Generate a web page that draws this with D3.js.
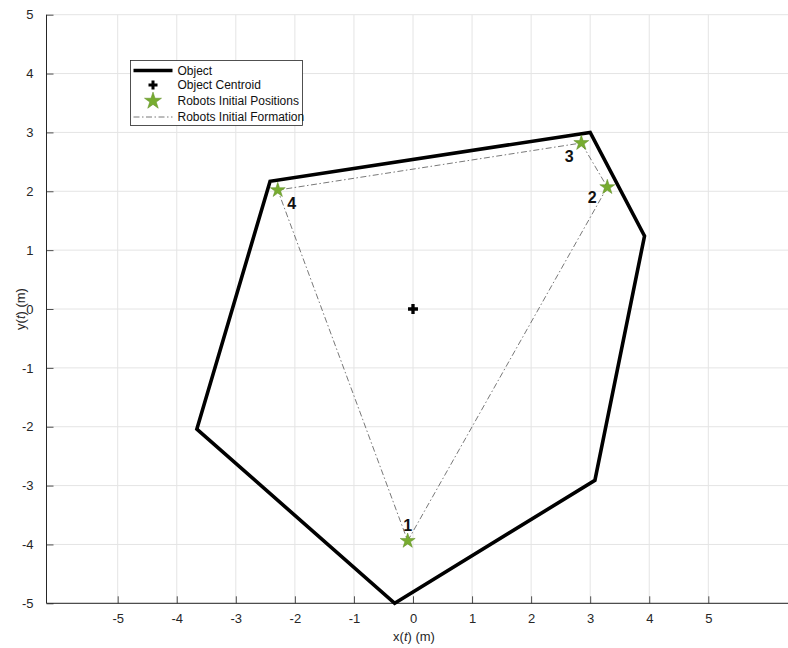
<!DOCTYPE html>
<html>
<head>
<meta charset="utf-8">
<script src="https://cdn.jsdelivr.net/npm/d3@7/dist/d3.min.js"></script>
<style>
  html, body { margin: 0; padding: 0; background: #fff; }
  svg { display: block; font-family: "Liberation Sans", Arial, sans-serif; }
</style>
</head>
<body>
<svg id="chart" width="788" height="648"></svg>
<script>
// Object polygon vertices (m)
const objectX = [-0.31, 3.08, 3.92, 3.0, -2.42, -3.66];
const objectY = [-5.0, -2.91, 1.24, 3.0, 2.17, -2.04];

// Object centroid
const centroid = [0, 0];

// Robot initial positions (m)
const robotIds = ["1", "2", "3", "4"];
const robotX = [-0.09, 3.29, 2.85, -2.29];
const robotY = [-3.94, 2.07, 2.82, 2.02];

// Axis ticks
const xTicks = [-5, -4, -3, -2, -1, 0, 1, 2, 3, 4, 5];
const yTicks = [-5, -4, -3, -2, -1, 0, 1, 2, 3, 4, 5];

const legendLabels = ["Object", "Object Centroid", "Robots Initial Positions", "Robots Initial Formation"];

(function () {
  const svg = d3.select("#chart");
  const W = 788;
  const plotLeft = 46.5, plotTop = 14.7, plotBottom = 603.3;
  const unitX = 59.06;
  const x0 = 413;

  const x = d3.scaleLinear().domain([-6.2, 6.4]).range([x0 - 6.2 * unitX, x0 + 6.4 * unitX]);
  const y = d3.scaleLinear().domain([-5, 5]).range([plotBottom, plotTop]);

  const gridColor = "#e4e4e4";
  const axisColor = "#262626";
  const green = "#77AC30";
  const tickFmt = d => String(d);

  // grid
  const grid = svg.append("g");
  grid.selectAll("line.gx").data(xTicks).enter().append("line").attr("class", "gx")
    .attr("x1", d => x(d)).attr("x2", d => x(d))
    .attr("y1", plotTop).attr("y2", plotBottom)
    .attr("stroke", gridColor).attr("stroke-width", 1);
  grid.selectAll("line.gy").data(yTicks).enter().append("line").attr("class", "gy")
    .attr("x1", plotLeft).attr("x2", W)
    .attr("y1", d => y(d)).attr("y2", d => y(d))
    .attr("stroke", gridColor).attr("stroke-width", 1);

  // axes (ticks pointing inward)
  const xAxis = d3.axisBottom(x).tickValues(xTicks).tickSize(-7).tickPadding(10).tickFormat(tickFmt);
  const yAxis = d3.axisLeft(y).tickValues(yTicks).tickSize(-7).tickPadding(13).tickFormat(tickFmt);

  const gx = svg.append("g").attr("transform", `translate(0,${plotBottom})`).call(xAxis);
  gx.select(".domain").remove();
  gx.append("line").attr("x1", plotLeft).attr("x2", W).attr("y1", 0).attr("y2", 0)
    .attr("stroke", axisColor).attr("stroke-width", 1);

  const gy = svg.append("g").attr("transform", `translate(${plotLeft},0)`).call(yAxis);
  gy.select(".domain").remove();
  gy.append("line").attr("x1", 0).attr("x2", 0).attr("y1", plotTop).attr("y2", plotBottom)
    .attr("stroke", axisColor).attr("stroke-width", 1);

  [gx, gy].forEach(g => {
    g.selectAll(".tick line").attr("stroke", axisColor).attr("stroke-width", 0.8);
    g.selectAll(".tick text").attr("fill", axisColor).attr("font-size", 13)
      .attr("font-family", "Liberation Sans, Arial, sans-serif");
  });

  // axis labels
  const xl = svg.append("text").attr("x", 414).attr("y", 641).attr("text-anchor", "middle")
    .attr("font-size", 13).attr("fill", axisColor);
  xl.append("tspan").text("x(");
  xl.append("tspan").attr("font-style", "italic").text("t");
  xl.append("tspan").text(") (m)");

  const yl = svg.append("text").attr("transform", `translate(25,${y(0)}) rotate(-90)`)
    .attr("text-anchor", "middle").attr("font-size", 13).attr("fill", axisColor);
  yl.append("tspan").text("y(");
  yl.append("tspan").attr("font-style", "italic").text("t");
  yl.append("tspan").text(") (m)");

  // object polygon
  const objPts = objectX.map((d, i) => [x(d), y(objectY[i])]);
  svg.append("polygon")
    .attr("points", objPts.map(p => p.join(",")).join(" "))
    .attr("fill", "none").attr("stroke", "#000").attr("stroke-width", 3.6)
    .attr("stroke-linejoin", "miter");

  // robot formation (closed dash-dot loop)
  const formPts = robotX.map((d, i) => [x(d), y(robotY[i])]);
  svg.append("path")
    .attr("d", d3.line()(formPts.concat([formPts[0]])))
    .attr("fill", "none").attr("stroke", "#555").attr("stroke-width", 0.8)
    .attr("stroke-dasharray", "6,2.5,1.5,2.5");

  // centroid marker
  svg.append("path")
    .attr("d", d3.symbol().type(d3.symbolCross).size(55)())
    .attr("transform", `translate(${x(centroid[0])},${y(centroid[1])})`)
    .attr("fill", "#000");

  // robots
  const star = d3.symbol().type(d3.symbolStar).size(70)();
  svg.selectAll("path.robot").data(robotIds).enter().append("path")
    .attr("class", "robot")
    .attr("d", star)
    .attr("transform", (d, i) => `translate(${x(robotX[i])},${y(robotY[i])})`)
    .attr("fill", green).attr("stroke", "#5d8a22").attr("stroke-width", 0.5);

  // robot id labels
  const labelOffset = [[0, -10], [-15, 16], [-12, 19], [14, 19]];
  svg.selectAll("text.rid").data(robotIds).enter().append("text")
    .attr("class", "rid")
    .attr("x", (d, i) => x(robotX[i]) + labelOffset[i][0])
    .attr("y", (d, i) => y(robotY[i]) + labelOffset[i][1])
    .attr("text-anchor", "middle")
    .attr("font-size", 16).attr("font-weight", "bold").attr("fill", "#111")
    .text(d => d);

  // legend
  const lg = svg.append("g").attr("transform", "translate(130.5,60.5)");
  lg.append("rect").attr("width", 172).attr("height", 65)
    .attr("fill", "#fff").attr("stroke", axisColor).attr("stroke-width", 0.8);
  const rowY = [10, 24.5, 40.5, 56.5];
  const sx1 = 3, sx2 = 42, tx = 47;
  lg.append("line").attr("x1", sx1).attr("x2", sx2).attr("y1", rowY[0]).attr("y2", rowY[0])
    .attr("stroke", "#000").attr("stroke-width", 3.6);
  lg.append("path").attr("d", d3.symbol().type(d3.symbolCross).size(45)())
    .attr("transform", `translate(${(sx1 + sx2) / 2},${rowY[1]})`).attr("fill", "#000");
  lg.append("path").attr("d", d3.symbol().type(d3.symbolStar).size(90)())
    .attr("transform", `translate(${(sx1 + sx2) / 2},${rowY[2]})`)
    .attr("fill", green).attr("stroke", "#5d8a22").attr("stroke-width", 0.5);
  lg.append("line").attr("x1", sx1).attr("x2", sx2).attr("y1", rowY[3]).attr("y2", rowY[3])
    .attr("stroke", "#555").attr("stroke-width", 0.8).attr("stroke-dasharray", "6,2.5,1.5,2.5");
  lg.selectAll("text").data(legendLabels).enter().append("text")
    .attr("x", tx).attr("y", (d, i) => rowY[i] + 4.2)
    .attr("font-size", 12).attr("fill", "#111").text(d => d);
})();
</script>
</body>
</html>
